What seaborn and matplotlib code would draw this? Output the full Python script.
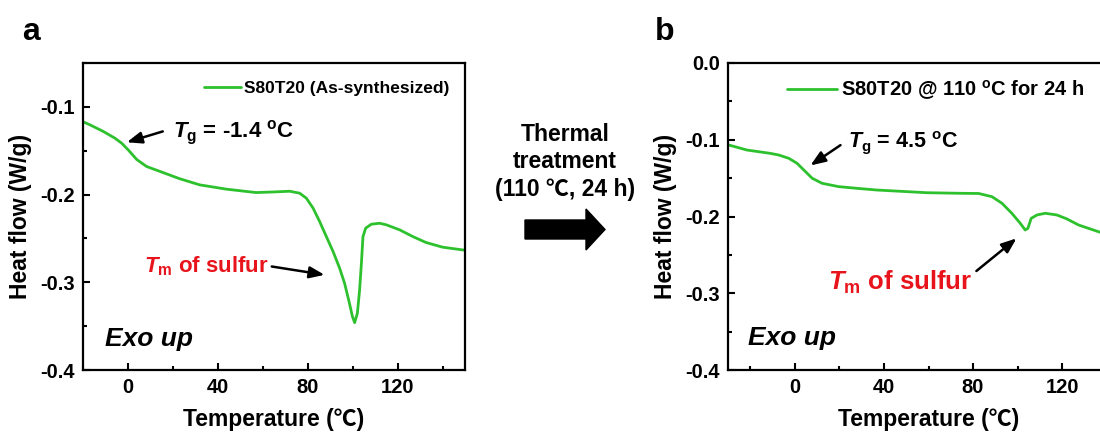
import matplotlib
matplotlib.use("Agg")
import matplotlib.pyplot as plt
import seaborn as sns
from matplotlib.patches import FancyArrow
from matplotlib.ticker import MultipleLocator

# ---------------- data ----------------
a_temp = [-20, -16.9, -11, -5.8, -2.8, 0.1, 3.9, 8.3, 15.7, 23.1, 31.9, 43.7, 57, 65,
          72, 76.4, 79.4, 82.4, 85.3, 88.3, 91.3, 94.2, 96.4, 98.4, 99.9, 100.9,
          102.1, 103.1, 103.9, 104.6, 105.8, 108.3, 112, 115, 120.9, 126.8, 132.7,
          140.1, 149, 150]
a_flow = [-0.117, -0.1205, -0.128, -0.1357, -0.1414, -0.149, -0.160, -0.168, -0.175,
          -0.182, -0.1889, -0.1938, -0.1977, -0.1970, -0.1962, -0.1984, -0.2041,
          -0.2155, -0.2307, -0.2479, -0.265, -0.2839, -0.301, -0.322, -0.339, -0.346,
          -0.3353, -0.3087, -0.2782, -0.2479, -0.2383, -0.2338, -0.2327, -0.2345,
          -0.2402, -0.2479, -0.2547, -0.260, -0.2631, -0.2633]

b_temp = [-30, -29.7, -21.5, -11.1, -7.2, -2.7, 1, 4.8, 7.8, 12.2, 19.7, 28.7, 36.8,
          59.2, 75, 82.5, 88.5, 93, 97.4, 101.2, 103.4, 104.6, 106.1, 108.7, 112.4,
          117.6, 122, 127.4, 136.3, 140]
b_flow = [-0.1062, -0.1068, -0.1134, -0.1177, -0.1199, -0.1242, -0.1307, -0.1416,
          -0.1502, -0.1567, -0.1611, -0.1635, -0.1655, -0.169, -0.1698, -0.1700,
          -0.1742, -0.1828, -0.1958, -0.2089, -0.2176, -0.2154, -0.2024, -0.1980,
          -0.1958, -0.1980, -0.2030, -0.2111, -0.2198, -0.2235]

a_label = "S80T20 (As-synthesized)"
b_label = "S80T20 @ 110 $^\\mathrm{o}$C for 24 h"
x_ticks = [0, 40, 80, 120]
a_yticks = [-0.4, -0.3, -0.2, -0.1]
b_yticks = [-0.4, -0.3, -0.2, -0.1, 0.0]

GREEN = "#2EC12E"

sns.set_style("ticks")
plt.rcParams["font.family"] = ["Liberation Sans", "Noto Sans CJK SC", "DejaVu Sans"]
plt.rcParams["font.weight"] = "bold"
plt.rcParams["mathtext.fontset"] = "custom"
plt.rcParams["mathtext.rm"] = "Liberation Sans:bold"
plt.rcParams["mathtext.it"] = "Liberation Sans:italic:bold"
plt.rcParams["mathtext.bf"] = "Liberation Sans:bold"
plt.rcParams["axes.linewidth"] = 1.5
for key in ["text.color", "axes.labelcolor", "xtick.color", "ytick.color",
            "axes.edgecolor"]:
    plt.rcParams[key] = "black"

fig = plt.figure(figsize=(11, 4.34), dpi=100)
W, H = 1100, 434


def px_axes(l, t, r, b):
    return fig.add_axes([l / W, 1 - b / H, (r - l) / W, (b - t) / H])


axa = px_axes(83, 63, 465, 370)
axb = px_axes(728, 63, 1129, 370)


def style(ax, xlim, ylim, yticks):
    ax.set_xlim(*xlim)
    ax.set_ylim(*ylim)
    ax.set_xticks(x_ticks)
    ax.set_yticks(yticks)
    ax.set_yticklabels([f"{v:.1f}" for v in yticks])
    ax.xaxis.set_minor_locator(MultipleLocator(20))
    ax.yaxis.set_minor_locator(MultipleLocator(0.05))
    ax.tick_params(which="both", direction="in", top=False, right=False,
                   width=1.5, labelsize=14.5, colors="black")
    ax.tick_params(which="major", length=5, pad=6)
    ax.tick_params(which="minor", length=3)
    for s in ax.spines.values():
        s.set_visible(True)
        s.set_linewidth(1.6)
        s.set_color("black")
    for lab in ax.get_xticklabels() + ax.get_yticklabels():
        lab.set_fontweight("bold")
    ax.set_xlabel("Temperature (\u2103)", fontsize=16.5, fontweight="bold", labelpad=8)
    ax.set_ylabel("Heat flow (W/g)", fontsize=16.5, fontweight="bold", labelpad=6)


line_kw = dict(color=GREEN, linewidth=2.0, sort=False, solid_joinstyle="round",
               solid_capstyle="round")
sns.lineplot(x=a_temp, y=a_flow, ax=axa, label=a_label, **line_kw)
sns.lineplot(x=b_temp, y=b_flow, ax=axb, label=b_label, **line_kw)

style(axa, (-20, 150), (-0.4, -0.05), a_yticks)
style(axb, (-30, 150), (-0.4, 0.0), b_yticks)

axa.legend(loc="center left", bbox_to_anchor=(0.318, 0.918), frameon=False,
           prop={"size": 12.5, "weight": "bold"}, handlelength=2.1, handletextpad=0.2,
           borderaxespad=0, borderpad=0)
axb.legend(loc="center left", bbox_to_anchor=(0.147, 0.912), frameon=False,
           prop={"size": 14.5, "weight": "bold"}, handlelength=2.5, handletextpad=0.2,
           borderaxespad=0, borderpad=0)

arrow_kw = dict(arrowstyle="-|>,head_length=0.9,head_width=0.35", color="black", lw=1.8,
                shrinkA=0, shrinkB=0)

# panel a annotations
axa.annotate("", xy=(-0.5, -0.1404), xytext=(15.5, -0.128), arrowprops=arrow_kw)
axa.text(20, -0.13, r"$T_\mathrm{g}$ = -1.4 $^\mathrm{o}$C", fontsize=16,
         ha="left", va="center", fontweight="bold")
axa.annotate("", xy=(87.5, -0.2915), xytext=(64, -0.282), arrowprops=arrow_kw)
axa.text(7, -0.282, r"$T_\mathrm{m}$ of sulfur", fontsize=16, color="#E8141B",
         ha="left", va="center", fontweight="bold")
axa.text(-10, -0.365, "Exo up", fontsize=19, fontweight="bold", style="italic",
         ha="left", va="center")

# panel b annotations
axb.annotate("", xy=(7, -0.1335), xytext=(20.5, -0.107), arrowprops=arrow_kw)
axb.text(24, -0.103, r"$T_\mathrm{g}$ = 4.5 $^\mathrm{o}$C", fontsize=15.5,
         ha="left", va="center", fontweight="bold")
axb.annotate("", xy=(99.5, -0.2285), xytext=(81.5, -0.2710), arrowprops=arrow_kw)
axb.text(15, -0.286, r"$T_\mathrm{m}$ of sulfur", fontsize=18.5, color="#E8141B",
         ha="left", va="center", fontweight="bold")
axb.text(-21, -0.358, "Exo up", fontsize=19, fontweight="bold", style="italic",
         ha="left", va="center")

# panel letters
fig.text(22 / W, 1 - 40 / H, "a", fontsize=23, fontweight="bold", ha="left",
         va="baseline")
fig.text(655 / W, 1 - 40 / H, "b", fontsize=23, fontweight="bold", ha="left",
         va="baseline")

# middle text and block arrow
fig.text(565 / W, 1 - 162 / H, "Thermal\ntreatment\n(110 \u2103, 24 h)", fontsize=16.5,
         fontweight="bold", ha="center", va="center", linespacing=1.25)
fig.patches.append(FancyArrow(525 / W, 1 - 229.5 / H, 80 / W, 0, width=19 / H,
                              head_width=41 / H, head_length=19 / W,
                              length_includes_head=True, color="black",
                              transform=fig.transFigure, figure=fig))

fig.savefig("out.png", dpi=100)
